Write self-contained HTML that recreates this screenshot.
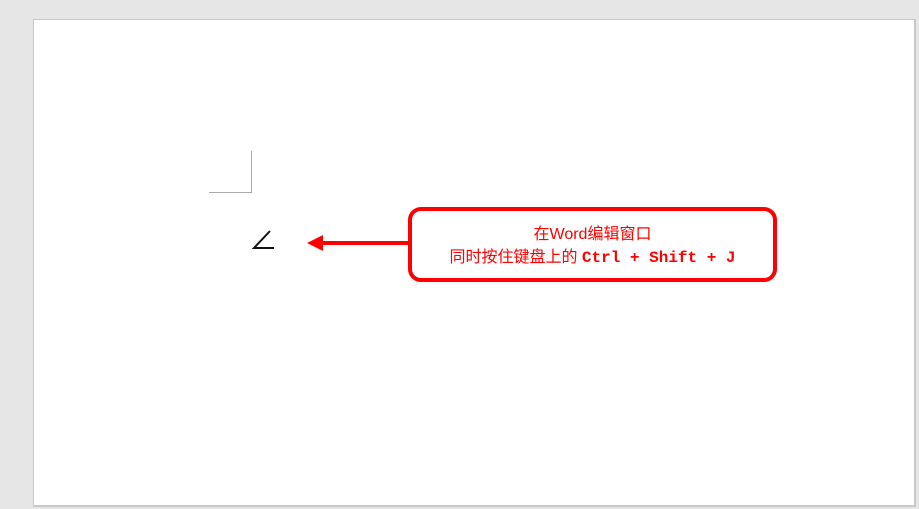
<!DOCTYPE html>
<html><head><meta charset="utf-8"><style>
body{margin:0;width:919px;height:509px;background:#e6e6e6;position:relative;overflow:hidden;font-family:"Liberation Sans","Noto Sans CJK SC",sans-serif}
.page{position:absolute;left:33px;top:19px;width:880px;height:485px;background:#fff;border:1px solid #c8c8c8;border-right-width:2px;border-bottom-width:2px}
.box{position:absolute;left:408px;top:207px;width:361px;height:67px;border:4px solid #f00;border-radius:13px;color:#f00;font-size:16px;text-align:center;line-height:23px;padding-top:0}
</style></head><body>
<div class="page"></div>
<div style="position:absolute;left:209px;top:192px;width:42px;height:1px;background:#aaa"></div>
<div style="position:absolute;left:251px;top:151px;width:1px;height:42px;background:#aaa"></div>
<svg style="position:absolute;left:0;top:0" width="919" height="509">
<polyline points="270,231 254,248 274,248" fill="none" stroke="#111" stroke-width="2"/>
<line x1="318" y1="243" x2="410" y2="243" stroke="#f00" stroke-width="4"/>
<polygon points="307,243 323,235 323,251" fill="#f00"/>
</svg>
<div class="box"><div style="margin-top:12px">在Word编辑窗口</div><div>同时按住键盘上的 <b style="font-family:'Liberation Mono',monospace;font-size:16px">Ctrl + Shift + J</b></div></div>
</body></html>
